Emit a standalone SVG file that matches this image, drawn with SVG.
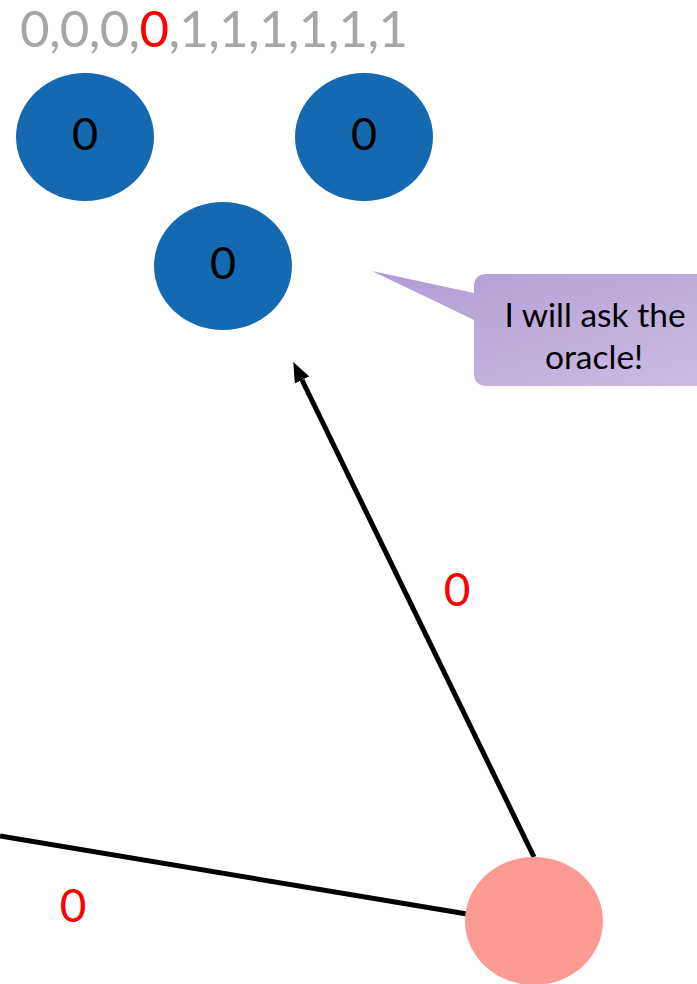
<svg xmlns="http://www.w3.org/2000/svg" width="697" height="984" viewBox="0 0 697 984">
  <defs>
    <linearGradient id="calloutFill" x1="0" y1="0" x2="1" y2="1">
      <stop offset="0" stop-color="#B29BD5"/>
      <stop offset="1" stop-color="#CCBDE2"/>
    </linearGradient>
    <marker id="arrowHead" viewBox="0 0 20 16" refX="0" refY="8" markerWidth="20" markerHeight="16" orient="auto" markerUnits="userSpaceOnUse">
      <path d="M0,0 L20,8 L0,16 z" fill="#000"/>
    </marker>
  </defs>
  <style>
    .node { fill: #1469B0; }
    .label { font-family: Lato, "Open Sans", "Liberation Sans", sans-serif; }
    .nodeText { font-size: 45px; fill: #000; text-anchor: middle; }
    .edgeText { font-size: 46px; fill: #FF0000; text-anchor: middle; }
    .calloutText { font-size: 33.5px; fill: #000; text-anchor: middle; }
    .edge { stroke: #000; stroke-width: 5; fill: none; }
  </style>
  <rect width="697" height="984" fill="#fff"/>

  <!-- sequence header -->
  <g id="sequence">
    <text class="label" x="20" y="47" font-size="51" fill="#A6A6A6" textLength="388" lengthAdjust="spacing">0,0,0,<tspan fill="#FF0000">0</tspan>,1,1,1,1,1,1</text>
  </g>

  <!-- connectors -->
  <g id="edges">
    <line class="edge" x1="0" y1="836" x2="467" y2="914"/>
    <line class="edge" x1="534" y1="857" x2="302" y2="380" marker-end="url(#arrowHead)"/>
    <text class="label edgeText" x="457" y="606">0</text>
    <text class="label edgeText" x="73" y="922">0</text>
  </g>

  <g id="nodeA">
    <ellipse class="node" cx="85" cy="137" rx="69" ry="64"/>
    <text class="label nodeText" x="85" y="150">0</text>
  </g>
  <g id="nodeB">
    <ellipse class="node" cx="364" cy="137" rx="69" ry="64"/>
    <text class="label nodeText" x="364" y="150">0</text>
  </g>
  <g id="nodeC">
    <ellipse class="node" cx="223" cy="266" rx="69" ry="64"/>
    <text class="label nodeText" x="223" y="279">0</text>
  </g>
  <g id="nodeD">
    <ellipse cx="534" cy="921" rx="69" ry="64" fill="#FC9B92"/>
  </g>

  <!-- speech callout -->
  <g id="callout">
    <path d="M487,274 H710 V386 H487 Q474,386 474,373 V320 L372,271 L474,293 V287 Q474,274 487,274 Z" fill="url(#calloutFill)"/>
    <text class="label calloutText" x="595" y="327">I will ask the</text>
    <text class="label calloutText" x="594" y="369">oracle!</text>
  </g>
</svg>
